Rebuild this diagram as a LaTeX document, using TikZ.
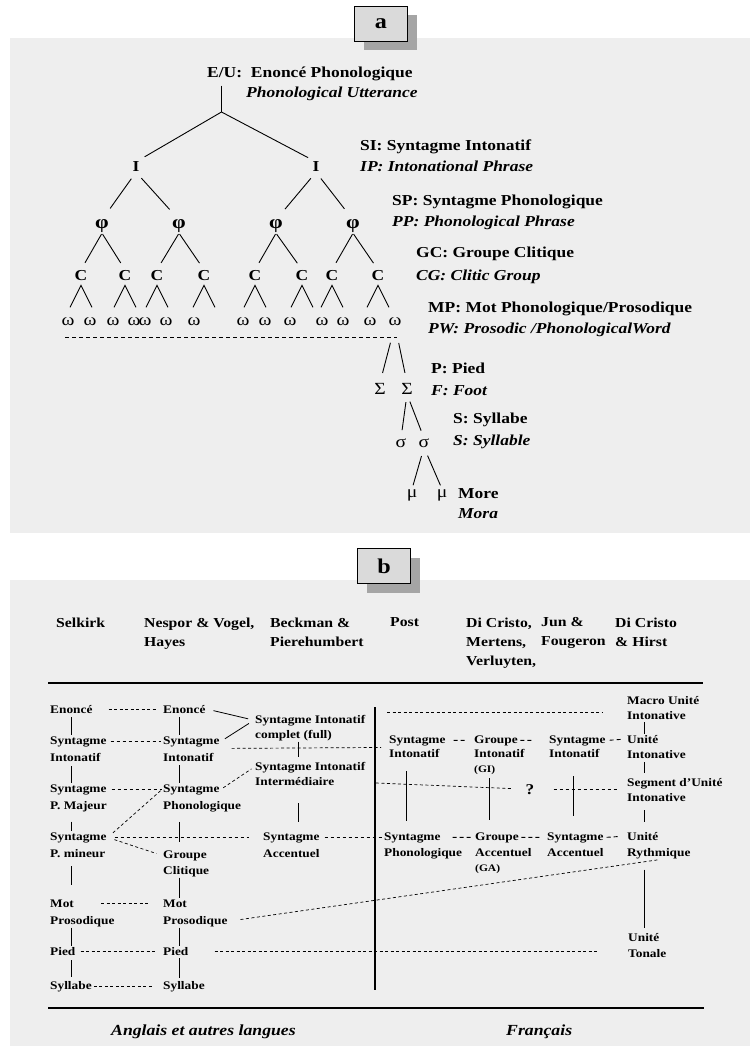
\documentclass[tikz,border=0pt]{standalone}
\usepackage{fontspec}
\setmainfont{Liberation Serif}[FakeStretch=1.15,
  BoldFont={Liberation Serif Bold},
  ItalicFont={Liberation Serif Italic},
  BoldItalicFont={Liberation Serif Bold Italic}]
\usetikzlibrary{shadows}

\definecolor{panelgray}{RGB}{238,238,238}
\definecolor{tabgray}{RGB}{218,218,218}
\definecolor{shadegray}{RGB}{165,165,165}

\tikzset{
  lab/.style={anchor=base west, inner sep=0pt, font=\bfseries\fontsize{15.2}{18}\selectfont},
  labit/.style={lab, font=\bfseries\itshape\fontsize{15.2}{18}\selectfont},
  sym/.style={anchor=base, inner sep=0pt, font=\bfseries\fontsize{15.2}{18}\selectfont},
  greek/.style={anchor=base, inner sep=0pt, font=\fontsize{17}{18}\selectfont},
  branch/.style={line width=0.9pt},
  tab/.style={draw, line width=1.2pt, fill=tabgray, minimum width=53pt, minimum height=35pt, inner sep=0pt,
    font=\bfseries\fontsize{21}{21}\selectfont,
    drop shadow={shadow xshift=9pt, shadow yshift=-9pt, fill=shadegray, opacity=1}},
  head/.style={anchor=north west, align=left, inner sep=0pt, font=\bfseries\fontsize{13.7}{19}\selectfont},
  cell/.style={anchor=base west, inner sep=1pt, font=\bfseries\fontsize{11.6}{14}\selectfont},
  note/.style={cell, font=\bfseries\fontsize{10}{12}\selectfont},
  lang/.style={anchor=base west, inner sep=0pt, font=\bfseries\itshape\fontsize{15.4}{18}\selectfont},
  vlink/.style={line width=0.8pt},
  dlink/.style={line width=0.7pt, dash pattern=on 3pt off 2.5pt},
  mlink/.style={line width=0.9pt, dash pattern=on 4pt off 3pt},
  Dlink/.style={line width=1.2pt, dash pattern=on 3.5pt off 2.5pt},
  rule/.style={line width=2pt}
}

\begin{document}
\begin{tikzpicture}[x=1pt,y=-1pt]
    \useasboundingbox (0,0) rectangle (750,1048);
    %panel a
    \fill[panelgray] (10,38) rectangle (750,533);
    \node[tab] (taga) at (381,24) {a};

    \node[lab] (eu) at (207,78) {E/U:\ \ Enoncé Phonologique};
    \node[labit] (eu2) at (246,98) {Phonological Utterance};
    \node[lab] (si) at (360,151) {SI: Syntagme Intonatif};
    \node[labit] (ip) at (360,172) {IP: Intonational Phrase};
    \node[lab] (sp) at (392,206) {SP: Syntagme Phonologique};
    \node[labit] (pp) at (392,227) {PP: Phonological Phrase};
    \node[lab] (gc) at (416,258) {GC: Groupe Clitique};
    \node[labit] (cg) at (416,280) {CG: Clitic Group};
    \node[lab] (mp) at (428,312) {MP: Mot Phonologique/Prosodique};
    \node[labit] (pw) at (428,333) {PW: Prosodic /PhonologicalWord};
    \node[lab] (pied) at (431,373) {P: Pied};
    \node[labit] (foot) at (431,395) {F: Foot};
    \node[lab] (syll) at (453,423) {S: Syllabe};
    \node[labit] (sylla) at (453,445) {S: Syllable};
    \node[lab] (more) at (458,498) {More};
    \node[labit] (mora) at (458,518) {Mora};

    % tree
    \coordinate (root) at (221.5,112);
    \draw[branch, shorten <=4pt] (eu.south -| root) -- (root);
    \node[sym] (I1) at (136,172) {I};
    \node[sym] (I2) at (316,172) {I};
    \draw[branch, shorten >=10pt] (root) -- (I1.north);
    \draw[branch, shorten >=9pt] (root) -- (I2.north);
    \foreach \x [count=\i] in {102,179,276,353}
        \node[sym, font=\bfseries\fontsize{19}{19}\selectfont] (phi\i) at (\x,229) {φ};
    \foreach \a/\b in {1/1,1/2,2/3,2/4}
        \draw[branch, shorten <=8pt, shorten >=14pt] (I\a.south) -- (phi\b.north);
    \foreach \x [count=\i] in {81,125,157,204,255,302,332,378}
        \node[sym] (C\i) at (\x,280) {C};
    \foreach \a/\b in {1/1,1/2,2/3,2/4,3/5,3/6,4/7,4/8}
        \draw[branch, shorten <=1pt, shorten >=8pt] (phi\a.south) -- (C\b.north);
    \foreach \i in {1,...,8}
        \draw[branch] (C\i.south) ++(-11,27) -- ++(11,-22) -- ++(11,22);
    \foreach \x [count=\i] in {68,90,113,134,145,166,194,243,265,290,322,343,370,395}
        \node[greek] (w\i) at (\x,325) {ω};
    \coordinate (cutl) at (65,337);
    \coordinate (cutr) at (397,337);
    \draw[line width=0.7pt, dash pattern=on 4pt off 3pt] (cutl) -- (cutr);
    \node[greek] (F1) at (380,394) {Σ};
    \node[greek] (F2) at (407,394) {Σ};
    \draw[branch, shorten <=18pt, shorten >=10pt] (w14.south) -- (F1.north);
    \draw[branch, shorten <=18pt, shorten >=10pt] (w14.south) -- (F2.north);
    \node[greek] (syl1) at (401,447) {σ};
    \node[greek] (syl2) at (424,447) {σ};
    \draw[branch, shorten <=8pt, shorten >=8pt] (F2.south) -- (syl1.north);
    \draw[branch, shorten <=8pt, shorten >=8pt] (F2.south) -- (syl2.north);
    \node[greek] (mu1) at (412,497) {μ};
    \node[greek] (mu2) at (442,497) {μ};
    \draw[branch, shorten <=9pt, shorten >=4pt] (syl2.south) -- (mu1.north);
    \draw[branch, shorten <=9pt, shorten >=4pt] (syl2.south) -- (mu2.north);

    %panel b
    \fill[panelgray] (10,580) rectangle (750,1046);
    \node[tab] (tagb) at (384,566) {b};

    \node[head] (hSel) at (56,617.5) {Selkirk};
    \node[head] (hNes) at (144,617.5) {Nespor \& Vogel,\\Hayes};
    \node[head] (hBec) at (270,617.5) {Beckman \&\\Pierehumbert};
    \node[head] (hPos) at (390,617.5) {Post};
    \node[head] (hDiC) at (466,617.5) {Di Cristo,\\Mertens,\\Verluyten,};
    \node[head] (hJun) at (541,617.5) {Jun \&\\Fougeron};
    \node[head] (hHir) at (615,617.5) {Di Cristo\\\& Hirst};

    \coordinate (ruleTl) at (48,683);
    \coordinate (ruleTr) at (703,683);
    \draw[rule] (ruleTl) -- (ruleTr);
    \coordinate (divT) at (375,707);
    \coordinate (divB) at (375,990);
    \draw[line width=1.6pt] (divT) -- (divB);
    \coordinate (ruleBl) at (48,1008);
    \coordinate (ruleBr) at (704,1008);
    \draw[rule] (ruleBl) -- (ruleBr);

    % columns
    \coordinate (cS) at (71,0);
    \coordinate (cN) at (179,0);
    \coordinate (cB) at (298,0);
    \coordinate (cP) at (406,0);
    \coordinate (cD) at (489,0);
    \coordinate (cJ) at (573,0);
    \coordinate (cH) at (644,0);

    % Selkirk
    \node[cell] (s1) at (49,713) {Enoncé};
    \node[cell] (s2) at (49,744) {Syntagme};
    \node[cell] (s2b) at (49,761) {Intonatif};
    \node[cell] (s3) at (49,792) {Syntagme};
    \node[cell] (s3b) at (49,809) {P. Majeur};
    \node[cell] (s4) at (49,840) {Syntagme};
    \node[cell] (s4b) at (49,857) {P. mineur};
    \node[cell] (s5) at (49,907) {Mot};
    \node[cell] (s5b) at (49,924) {Prosodique};
    \node[cell] (s6) at (49,955) {Pied};
    \node[cell] (s7) at (49,989) {Syllabe};
    % Nespor & Vogel, Hayes
    \node[cell] (n1) at (162,713) {Enoncé};
    \node[cell] (n2) at (162,744) {Syntagme};
    \node[cell] (n2b) at (162,761) {Intonatif};
    \node[cell] (n3) at (162,792) {Syntagme};
    \node[cell] (n3b) at (162,809) {Phonologique};
    \node[cell] (n4) at (162,858) {Groupe};
    \node[cell] (n4b) at (162,874) {Clitique};
    \node[cell] (n5) at (162,907) {Mot};
    \node[cell] (n5b) at (162,924) {Prosodique};
    \node[cell] (n6) at (162,955) {Pied};
    \node[cell] (n7) at (162,989) {Syllabe};
    % Beckman & Pierrehumbert
    \node[cell] (b1) at (254,723) {Syntagme Intonatif};
    \node[cell] (b1b) at (254,738) {complet (full)};
    \node[cell] (b2) at (254,770) {Syntagme Intonatif};
    \node[cell] (b2b) at (254,785) {Intermédiaire};
    \node[cell] (b3) at (262,840) {Syntagme};
    \node[cell] (b3b) at (262,857) {Accentuel};
    % Post
    \node[cell] (p1) at (388,743) {Syntagme};
    \node[cell] (p1b) at (388,757) {Intonatif};
    \node[cell] (p2) at (383,840) {Syntagme};
    \node[cell] (p2b) at (383,856) {Phonologique};
    % Di Cristo, Mertens
    \node[cell] (d1) at (473,743) {Groupe};
    \node[cell] (d1b) at (473,757) {Intonatif};
    \node[note] (d1c) at (473,772) {(GI)};
    \node[cell] (d2) at (474,840) {Groupe};
    \node[cell] (d2b) at (474,856) {Accentuel};
    \node[note] (d2c) at (474,871) {(GA)};
    % Jun & Fougeron
    \node[cell] (j1) at (548,743) {Syntagme};
    \node[cell] (j1b) at (548,757) {Intonatif};
    \node[cell] (j2) at (546,840) {Syntagme};
    \node[cell] (j2b) at (546,856) {Accentuel};
    % Di Cristo & Hirst
    \node[cell] (h1) at (626,704) {Macro Unité};
    \node[cell] (h1b) at (626,719) {Intonative};
    \node[cell] (h2) at (626,743) {Unité};
    \node[cell] (h2b) at (626,758) {Intonative};
    \node[cell] (h3) at (626,786) {Segment d’Unité};
    \node[cell] (h3b) at (626,801) {Intonative};
    \node[cell] (h4) at (626,840) {Unité};
    \node[cell] (h4b) at (626,856) {Rythmique};
    \node[cell] (h5) at (627,941) {Unité};
    \node[cell] (h5b) at (627,957) {Tonale};
    \node[cell, anchor=base, font=\bfseries\fontsize{15}{15}\selectfont] (q) at (530,794) {?};

    % vertical links
    \draw[vlink, shorten <=3pt] (s1.south -| cS) -- (s2.north -| cS);
    \draw[vlink, shorten <=4pt] (s2b.south -| cS) -- (s3.north -| cS);
    \draw[vlink, shorten <=9pt] (s3b.south -| cS) -- (s4.north -| cS);
    \draw[vlink, shorten <=8pt, shorten >=13pt] (s4b.south -| cS) -- (s5.north -| cS);
    \draw[vlink] (s5b.south -| cS) -- (s6.north -| cS);
    \draw[vlink, shorten <=4pt, shorten >=3pt] (s6.south -| cS) -- (s7.north -| cS);
    \draw[vlink, shorten <=3pt] (n1.south -| cN) -- (n2.north -| cN);
    \draw[vlink, shorten <=3pt] (n2b.south -| cN) -- (n3.north -| cN);
    \draw[vlink, shorten <=9pt, shorten >=7pt] (n3b.south -| cN) -- (n4.north -| cN);
    \draw[vlink] (n4b.south -| cN) -- (n5.north -| cN);
    \draw[vlink] (n5b.south -| cN) -- (n6.north -| cN);
    \draw[vlink, shorten <=2pt, shorten >=2pt] (n6.south -| cN) -- (n7.north -| cN);
    \draw[vlink, shorten >=4pt] (b1b.south -| cB) -- (b2.north -| cB);
    \draw[vlink, shorten <=17pt, shorten >=9pt] (b2b.south -| cB) -- (b3.north -| cB);
    \draw[vlink, shorten <=13pt, shorten >=10pt] (p1b.south -| cP) -- (p2.north -| cP);
    \draw[vlink, shorten <=3pt, shorten >=11pt] (d1c.south -| cD) -- (d2.north -| cD);
    \draw[vlink, shorten <=18pt, shorten >=15pt] (j1b.south -| cJ) -- (j2.north -| cJ);
    \draw[vlink, shorten <=2pt] (h1b.south -| cH) -- (h2.north -| cH);
    \draw[vlink, shorten <=3pt, shorten >=4pt] (h2b.south -| cH) -- (h3.north -| cH);
    \draw[vlink, shorten <=8pt, shorten >=9pt] (h3b.south -| cH) -- (h4.north -| cH);
    \draw[vlink, shorten <=10pt, shorten >=4pt] (h4b.south -| cH) -- (h5.north -| cH);

    % English side
    \draw[dlink, shorten <=15pt, shorten >=4pt] (s1.east) -- (n1.west);
    \draw[Dlink, shorten <=3pt, shorten >=1pt] (s2.east) -- (n2.west);
    \draw[Dlink, shorten <=4pt] (s3.east) -- (n3.west);
    \draw[Dlink, shorten <=7pt, shorten >=13pt] (s4.east) -- (b3.west);
    \draw[dlink, shorten <=7pt, shorten >=1pt] (s4.east) -- (n3.west);
    \draw[dlink, shorten <=7pt, shorten >=6pt] (s4.east) -- (n4.west);
    \draw[dlink, shorten <=3pt, shorten >=3pt] (n3.east) -- (b2.west);
    \draw[vlink, shorten <=7pt, shorten >=6pt] (n1.east) -- (b1.west);
    \draw[vlink, shorten <=5pt, shorten >=6pt] (n2.east) -- (b1.west);
    \draw[dlink, shorten <=26pt, shorten >=12pt] (s5.east) -- (n5.west);
    \draw[dlink, shorten <=4pt, shorten >=6pt] (s6.east) -- (n6.west);
    \draw[dlink, shorten <=1pt, shorten >=9pt] (s7.east) -- (n7.west);

    % across the divide
    \draw[dlink, shorten <=11pt, shorten >=7pt] ([yshift=-7pt]n2.east) -- ([yshift=-7pt]p1.west);
    \draw[Dlink, shorten <=4pt, shorten >=1pt] (b3.east) -- (p2.west);
    \draw[dlink, shorten <=25pt, shorten >=28pt] (n6.east) -- (n6.east -| h5.west);
    \draw[dlink, shorten <=12pt] (n5b.east) -- (h4b.south);

    % French side
    \coordinate (divtop) at (387,712);
    \draw[dlink, shorten >=23pt] (divtop) -- (divtop -| h1.west);
    \coordinate (divq) at (376,783);
    \draw[dlink, shorten >=13pt] (divq) -- (q.west);
    \draw[Dlink, shorten <=18pt, shorten >=8pt] (q.east) -- (q.east -| h3.west);
    \draw[mlink, shorten <=7pt, shorten >=6pt] (p1.east) -- (d1.west);
    \draw[mlink, shorten <=1.5pt, shorten >=14pt] (d1.east) -- (j1.west);
    \draw[mlink, shorten <=3pt, shorten >=3pt] (j1.east) -- (h2.west);
    \draw[mlink, shorten <=11pt, shorten >=1pt] (p2.east) -- (d2.west);
    \draw[mlink, shorten <=1.5pt, shorten >=5pt] (d2.east) -- (j2.west);
    \draw[mlink, shorten <=2pt, shorten >=7pt] (j2.east) -- (h4.west);

    \node[lang] (eng) at (111,1035) {Anglais et autres langues};
    \node[lang] (fra) at (506,1035) {Français};
\end{tikzpicture}
\end{document}
